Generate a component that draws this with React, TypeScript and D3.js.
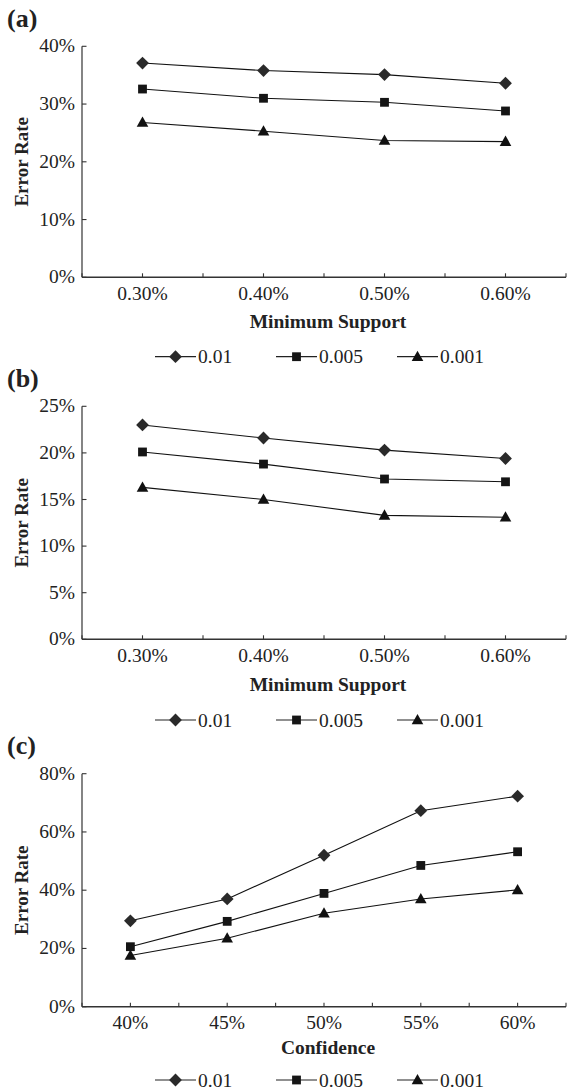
import React from "react";
import * as d3 from "d3";

// categories
const supportCats = ["0.30%", "0.40%", "0.50%", "0.60%"];
const confidenceCats = ["40%", "45%", "50%", "55%", "60%"];
const legendNames = ["0.01", "0.005", "0.001"];

// panel (a) values, %
const a001 = [37.1, 35.8, 35.1, 33.6];
const a0005 = [32.6, 31.0, 30.3, 28.8];
const a0001 = [26.8, 25.3, 23.7, 23.5];
const aTicks = [0, 10, 20, 30, 40];

// panel (b)
const b001 = [23.0, 21.6, 20.3, 19.4];
const b0005 = [20.1, 18.8, 17.2, 16.9];
const b0001 = [16.3, 15.0, 13.3, 13.1];
const bTicks = [0, 5, 10, 15, 20, 25];

// panel (c)
const c001 = [29.5, 37.0, 52.0, 67.3, 72.3];
const c0005 = [20.6, 29.3, 38.9, 48.5, 53.2];
const c0001 = [17.6, 23.5, 32.1, 37.0, 40.1];
const cTicks = [0, 20, 40, 60, 80];

const W = 567;
const H = 1090;
const FONT = "'Liberation Serif', 'Times New Roman', serif";
const kinds = ["diamond", "square", "triangle"];

const panels = [
  { label: "(a)", cats: supportCats, series: [a001, a0005, a0001], ticks: aTicks, xTitle: "Minimum Support",
    top: 46.3, bottom: 277.3, labelY: 27, tickY: 299.5, titleY: 328, legendY: 356.7 },
  { label: "(b)", cats: supportCats, series: [b001, b0005, b0001], ticks: bTicks, xTitle: "Minimum Support",
    top: 406.3, bottom: 639.3, labelY: 387, tickY: 662, titleY: 690.5, legendY: 720 },
  { label: "(c)", cats: confidenceCats, series: [c001, c0005, c0001], ticks: cTicks, xTitle: "Confidence",
    top: 773.7, bottom: 1006.7, labelY: 754, tickY: 1029, titleY: 1054, legendY: 1080 },
];

const Marker = ({ kind, cx, cy }: { kind: string; cx: number; cy: number }) => {
  if (kind === "diamond") {
    const r = 6.4;
    return <path d={`M${cx},${cy - r}L${cx + r},${cy}L${cx},${cy + r}L${cx - r},${cy}Z`} fill="#2a2a2a" />;
  }
  if (kind === "square") {
    return <rect x={cx - 4.4} y={cy - 4.4} width={8.8} height={8.8} fill="#151515" />;
  }
  return <path d={`M${cx},${cy - 6}L${cx + 5.8},${cy + 4.3}L${cx - 5.8},${cy + 4.3}Z`} fill="#111" />;
};

const Panel = ({ p }: { p: (typeof panels)[number] }) => {
  const x = d3.scaleBand<string>().domain(p.cats).range([82, 566]);
  const maxV = p.ticks[p.ticks.length - 1];
  const y = d3.scaleLinear().domain([0, maxV]).range([p.bottom, p.top]);
  const bw = x.bandwidth();
  const cx = (c: string) => (x(c) as number) + bw / 2;
  const line = d3
    .line<number>()
    .x((_, i) => cx(p.cats[i]))
    .y((v) => y(v));

  // ticks at category centres and band boundaries
  const xTicks: number[] = [];
  p.cats.forEach((c) => {
    xTicks.push(x(c) as number);
    xTicks.push(cx(c));
  });
  xTicks.push(566);

  const midY = (p.top + p.bottom) / 2;
  const legendX = [155, 276, 397];

  return (
    <g>
      <text x={7} y={p.labelY} fontSize={26} fontWeight="bold" fill="#222">{p.label}</text>
      {/* y axis */}
      <line x1={82} x2={82} y1={p.top} y2={p.bottom} stroke="#333" strokeWidth={1.2} />
      {p.ticks.map((t) => (
        <g key={t}>
          <line x1={82} x2={86.5} y1={y(t)} y2={y(t)} stroke="#333" strokeWidth={1.1} />
          <text x={75} y={y(t) + 6} textAnchor="end" fontSize={19.5} fill="#222">{t}%</text>
        </g>
      ))}
      <text transform={`translate(28,${midY}) rotate(-90)`} textAnchor="middle" fontSize={19}
        fontWeight="bold" fill="#222">Error Rate</text>
      {/* x axis */}
      <line x1={82} x2={566} y1={p.bottom} y2={p.bottom} stroke="#333" strokeWidth={1.4} />
      {xTicks.map((t, i) => (
        <line key={i} x1={t} x2={t} y1={p.bottom} y2={p.bottom - 4} stroke="#333" strokeWidth={1.1} />
      ))}
      {p.cats.map((c) => (
        <text key={c} x={cx(c)} y={p.tickY} textAnchor="middle" fontSize={19.5} fill="#222">{c}</text>
      ))}
      <text x={328} y={p.titleY} textAnchor="middle" fontSize={19.5} fontWeight="bold" fill="#222">{p.xTitle}</text>
      {/* series */}
      {p.series.map((s, si) => (
        <g key={si}>
          <path d={line(s) || ""} fill="none" stroke="#111" strokeWidth={1.1} />
          {s.map((v, i) => (
            <Marker key={i} kind={kinds[si]} cx={cx(p.cats[i])} cy={y(v)} />
          ))}
        </g>
      ))}
      {/* legend */}
      {legendNames.map((n, i) => (
        <g key={n}>
          <line x1={legendX[i]} x2={legendX[i] + 41} y1={p.legendY} y2={p.legendY} stroke="#222" strokeWidth={1.2} />
          <Marker kind={kinds[i]} cx={legendX[i] + 20.5} cy={p.legendY} />
          <text x={legendX[i] + 43} y={p.legendY + 6.5} fontSize={19.5} fill="#222">{n}</text>
        </g>
      ))}
    </g>
  );
};

export default function App() {
  return (
    <svg width={W} height={H} viewBox={`0 0 ${W} ${H}`}
      style={{ position: "absolute", left: 0, top: 0, background: "#fff", fontFamily: FONT }}>
      {panels.map((p) => (
        <Panel key={p.label} p={p} />
      ))}
    </svg>
  );
}
